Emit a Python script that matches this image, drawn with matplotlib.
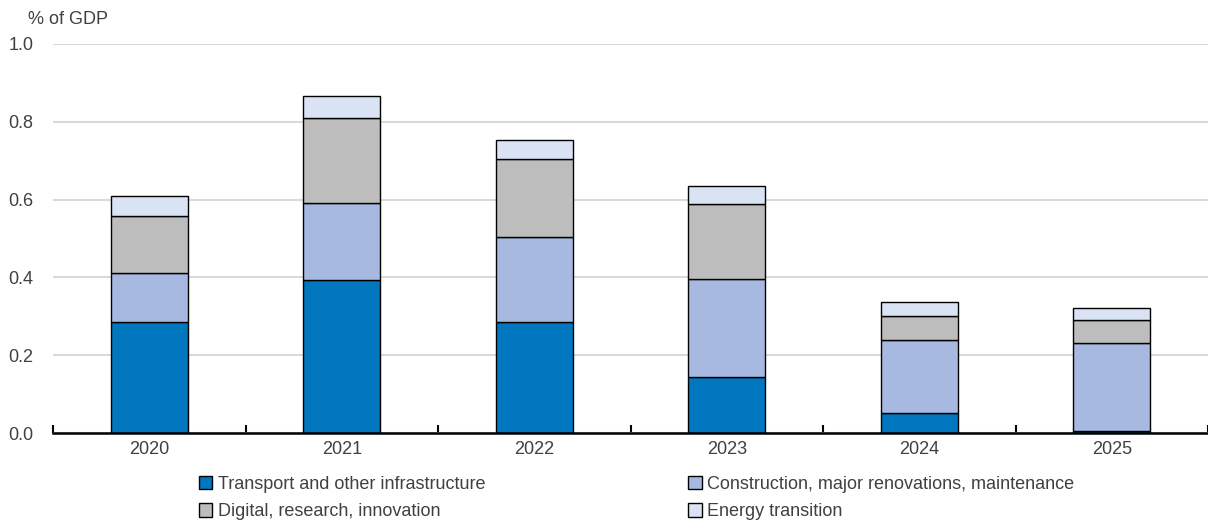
import numpy as np
import matplotlib
matplotlib.use("Agg")
import matplotlib.pyplot as plt

plt.rcParams['font.family'] = ['Liberation Sans Narrow', 'Liberation Sans', 'DejaVu Sans']

years = ['2020', '2021', '2022', '2023', '2024', '2025']
transport = [0.285, 0.393, 0.285, 0.144, 0.051, 0.005]
construction = [0.126, 0.198, 0.219, 0.252, 0.188, 0.226]
digital = [0.147, 0.219, 0.200, 0.193, 0.062, 0.059]
energy = [0.051, 0.056, 0.049, 0.046, 0.036, 0.031]

labels = ['Transport and other infrastructure',
          'Construction, major renovations, maintenance',
          'Digital, research, innovation',
          'Energy transition']
colors = ['#0077BE', '#A7B8E1', '#BDBDBD', '#DAE3F3']
txt = '#404040'

fig = plt.figure(figsize=(12.08, 5.23), dpi=100)
ax = fig.add_axes([0.044, 0.172, 0.956, 0.744])

x = np.arange(len(years))
bottom = np.zeros(len(years))
handles = []
for vals, lab, col in zip([transport, construction, digital, energy], labels, colors):
    b = ax.bar(x, vals, 0.4, bottom=bottom, color=col, edgecolor='black',
               linewidth=1.0, label=lab, zorder=3)
    handles.append(b)
    bottom += np.array(vals)

ax.set_xlim(-0.5, len(years) - 0.5)
ax.set_ylim(0, 1.0)
ax.set_yticks(np.arange(0, 1.01, 0.2))
ax.set_yticklabels(['%.1f' % v for v in np.arange(0, 1.01, 0.2)], fontsize=13, color=txt)
ax.yaxis.grid(True, color='#D9D9D9', linewidth=1.5, zorder=0)
ax.tick_params(axis='y', length=0, pad=14)

ax.set_xticks(x)
ax.set_xticklabels(years, fontsize=13, color=txt)
ax.tick_params(axis='x', length=0, pad=6)
ax.set_xticks(np.arange(-0.5, len(years)), minor=True)
ax.tick_params(axis='x', which='minor', direction='in', length=6, width=1.5, color='black')

for s in ['top', 'right', 'left']:
    ax.spines[s].set_visible(False)
ax.spines['bottom'].set_linewidth(1.8)
ax.spines['bottom'].set_zorder(4)

fig.text(0.023, 0.955, '% of GDP', fontsize=13, color=txt, ha='left')

fig.legend(handles=[handles[0], handles[2], handles[1], handles[3]],
           labels=[labels[0], labels[2], labels[1], labels[3]],
           ncol=2, loc='lower left', bbox_to_anchor=(0.151, -0.026),
           frameon=False, fontsize=13, handlelength=0.75, handleheight=0.75,
           handletextpad=0.3, columnspacing=11.25, labelspacing=0.6,
           labelcolor=txt)

fig.savefig('out.png', dpi=100)
